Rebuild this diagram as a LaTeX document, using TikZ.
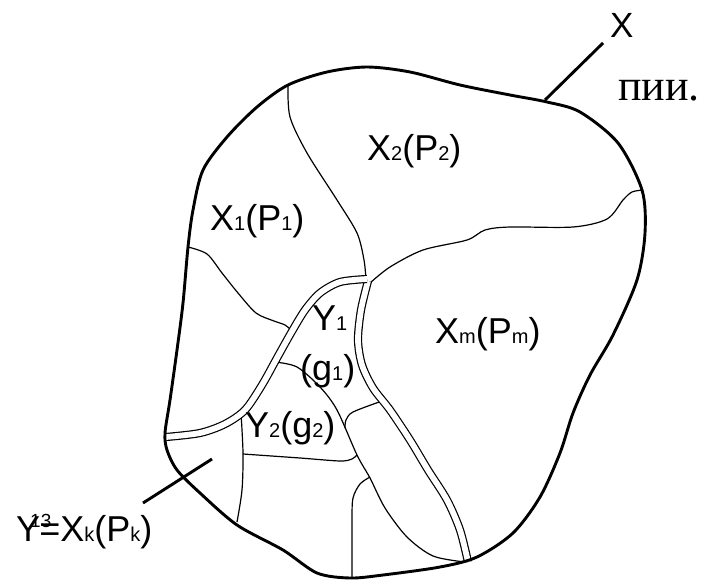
\documentclass[tikz,border=0pt]{standalone}
\usepackage{fontspec}
\setmainfont{Liberation Sans}
\newfontfamily\rusfont{Liberation Serif}
\newcommand{\sm}[1]{{\fontsize{20}{20}\selectfont #1}}
\tikzset{
  outerline/.style={line width=2.9pt, line join=round},
  partline/.style={line width=1.2pt},
  seamline/.style={line width=1.2pt, double=white, double distance=5.8pt},
  leaderline/.style={line width=2.9pt},
  regionlabel/.style={font=\fontsize{36}{36}\selectfont, inner sep=0pt, anchor=base west},
}

\begin{document}
\begin{tikzpicture}[x=1pt,y=-1pt]
  \useasboundingbox (0,0) rectangle (708,583);

  % thin partition lines
  \draw[partline] plot[smooth] coordinates {(288,85) (290,117) (307,153) (337,200) (357,233) (364,260) (366,280)};
  \draw[partline] plot[smooth] coordinates {(188,247) (207,254) (222,273) (238,293) (256,313) (274,321) (285,325) (292,331)};
  \draw[partline] plot[smooth] coordinates {(370,283) (390,267) (423,250) (467,240) (485,230) (510,227) (573,227) (607,219) (623,200) (632,192) (643,190)};
  \draw[partline] plot[smooth] coordinates {(275,362) (297,367) (320,387) (337,410) (357,455) (370,478) (385,508) (407,537) (433,556) (465,562)};
  \draw[partline] plot[smooth] coordinates {(241,413) (243,453) (242,490) (237,522)};
  \draw[partline] plot[smooth] coordinates {(243,454) (300,458) (340,461) (352,459) (357,455)};
  \draw[partline] plot[smooth] coordinates {(382,401) (353,412) (346,420) (345,428)};
  \draw[partline] plot[smooth] coordinates {(370,477) (360,484) (353,498) (352,520) (352,578)};

  % double seams
  \draw[seamline] plot[smooth] coordinates {(368,281) (361,310) (358,340) (362,365) (373,388) (390,410) (410,440) (428,470) (447,500) (460,530) (468,562)};
  \draw[seamline] plot[smooth] coordinates {(166,437) (200,433) (225,424) (245,410) (262,385) (277,358) (291,333) (305,310) (320,293) (340,282) (367,279)};

  % outer contour
  \draw[outerline] plot[smooth cycle] coordinates {(288,85) (327,72) (367,67) (410,72) (460,85) (510,95) (547,102) (580,112) (618,143) (642,190) (645,233) (637,280) (613,335) (590,375) (573,413) (560,453) (540,497) (513,533) (477,557) (440,567) (383,575) (350,578) (317,573) (283,550) (237,525) (200,493) (177,470) (167,450) (165,433) (170,400) (177,350) (183,303) (188,247) (193,210) (203,170) (227,137) (257,107)};

  % leaders
  \coordinate (xfoot) at (545,100);
  \coordinate (xhead) at (603,43);
  \coordinate (kfoot) at (212,459);
  \coordinate (khead) at (143,503);
  \draw[leaderline] (xfoot) -- (xhead);
  \draw[leaderline] (kfoot) -- (khead);

  % labels
  \node[regionlabel] (xone) at (210,230) {X\sm{1}(P\sm{1})};
  \node[regionlabel] (xtwo) at (367,160) {X\sm{2}(P\sm{2})};
  \node[regionlabel] (xm) at (435,343) {X\sm{m}(P\sm{m})};
  \node[regionlabel] (yone) at (312,330) {Y\sm{1}};
  \node[regionlabel] (gone) at (300,380) {(g\sm{1})};
  \node[regionlabel] (ytwo) at (245,437) {Y\sm{2}(g\sm{2})};
  \node[regionlabel] (ykx) at (16,541) {Y\kern-10pt\raisebox{14pt}{\fontsize{19}{19}\selectfont 13}\kern-12pt=X\sm{k}(P\sm{k})};
  \node[regionlabel, font=\fontsize{35}{35}\selectfont] (xall) at (610,38) {X};
  \node[regionlabel, font=\fontsize{44}{44}\rusfont] (pii) at (618,100) {пии.};
\end{tikzpicture}
\end{document}
